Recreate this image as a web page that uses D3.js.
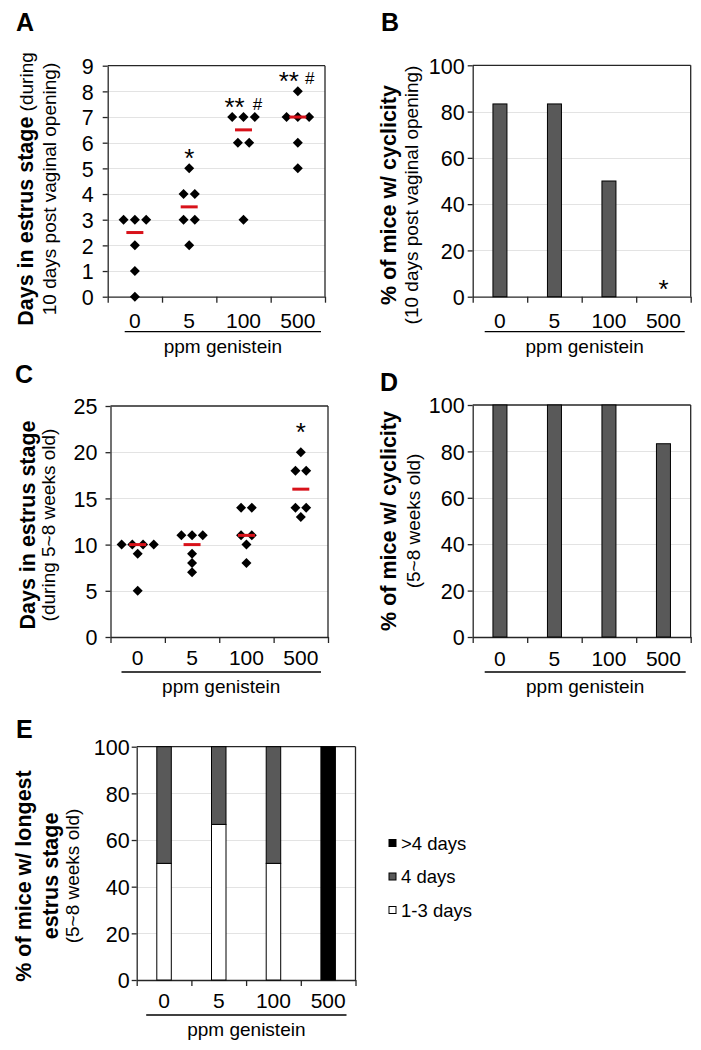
<!DOCTYPE html>
<html><head><meta charset="utf-8">
<script src="https://cdn.jsdelivr.net/npm/d3@7"></script>
<style>
body{margin:0;background:#fff}
svg text{font-family:"Liberation Sans",Arial,Helvetica,sans-serif;fill:#000}
</style>
</head><body>
<svg id="c" width="701" height="1050"></svg>
<script>
// ---------------- data ----------------
const groups = ["0", "5", "100", "500"];
const xTitle = "ppm genistein";

const daysA = [[3, 3, 3, 2, 1, 0], [5, 4, 4, 3, 3, 2], [7, 7, 7, 6, 6, 3], [8, 7, 7, 7, 6, 5]];
const starsA = ["", "*", "**", "**"];
const hashA = ["", "", "#", "#"];

const cyclicB = [83.3, 83.3, 50, 0];
const starsB = ["", "", "", "*"];

const daysC = [[10, 10, 10, 10, 9, 5], [11, 11, 11, 9, 8, 7], [14, 14, 11, 11, 10, 8], [20, 18, 18, 14, 14, 13]];
const starsC = ["", "", "", "*"];

const cyclicD = [100, 100, 100, 83.3];

const longest13 = [50, 66.7, 50, 0];
const longest4 = [50, 33.3, 50, 0];
const longestGt4 = [0, 0, 0, 100];
const stackKeys = ["1-3 days", "4 days", ">4 days"];
const legendOrder = [">4 days", "4 days", "1-3 days"];

// ---------------- drawing ----------------
const svg = d3.select("#c");
const AX = "#262626", GRID = "#e3e3e3";
const FS_YTICK = 21.5, FS_XTICK = 21, FS_TITLE = 19, FS_YB = 21.5, FS_YN = 19;

function panel(o) {
  const x = d3.scaleBand().domain(groups).range([o.left, o.right]);
  const y = d3.scaleLinear().domain([0, o.ymax]).range([o.bottom, o.top]);
  const ticks = d3.range(0, o.ymax + o.ystep / 2, o.ystep);
  const g = svg.append("g");
  g.selectAll("line.grid").data(ticks.filter(t => t > 0 && t < o.ymax)).join("line")
    .attr("class", "grid")
    .attr("x1", o.left).attr("x2", o.right)
    .attr("y1", d => Math.round(y(d)) + 0.5).attr("y2", d => Math.round(y(d)) + 0.5)
    .attr("stroke", GRID).attr("stroke-width", 1);
  g.append("line").attr("x1", o.left).attr("x2", o.right).attr("y1", o.top).attr("y2", o.top)
    .attr("stroke", AX).attr("stroke-width", 1.3);
  g.append("line").attr("x1", o.right).attr("x2", o.right).attr("y1", o.top).attr("y2", o.bottom)
    .attr("stroke", AX).attr("stroke-width", 1.3);
  const ya = g.append("g").attr("transform", `translate(${o.left},0)`)
    .call(d3.axisLeft(y).tickValues(ticks).tickSize(5).tickSizeOuter(0).tickPadding(o.labelGap).tickFormat(d3.format("d")));
  ya.select(".domain").attr("stroke", AX).attr("stroke-width", 1.3);
  ya.selectAll(".tick line").attr("stroke", AX).attr("stroke-width", 1.3);
  ya.selectAll(".tick text").attr("font-size", FS_YTICK).attr("font-family", null).attr("dy", "0.36em");
  const xb = d3.scaleLinear().domain([0, groups.length]).range([o.left, o.right]);
  const xa = g.append("g").attr("transform", `translate(0,${o.bottom})`)
    .call(d3.axisBottom(xb).tickValues(d3.range(groups.length + 1)).tickSize(6).tickSizeOuter(0).tickFormat(""));
  xa.select(".domain").attr("stroke", AX).attr("stroke-width", 1.3);
  xa.selectAll(".tick line").attr("stroke", AX).attr("stroke-width", 1.3);
  const xl = g.append("g").attr("transform", `translate(0,${o.bottom + o.xLabelDy})`)
    .call(d3.axisBottom(x).tickSize(0).tickPadding(0));
  xl.select(".domain").remove();
  xl.selectAll(".tick text").attr("font-size", FS_XTICK).attr("font-family", null).attr("dy", 0).attr("y", 0);
  const ux1 = o.left + o.ul[0], ux2 = o.right - o.ul[1];
  g.append("line").attr("x1", ux1).attr("x2", ux2).attr("y1", o.bottom + 35).attr("y2", o.bottom + 35)
    .attr("stroke", "#000").attr("stroke-width", 1.3);
  g.append("text").attr("x", (ux1 + ux2) / 2).attr("y", o.bottom + 56).attr("text-anchor", "middle")
    .attr("font-size", FS_TITLE).text(xTitle);
  g.append("text").attr("x", o.letter[1]).attr("y", o.letter[2]).attr("font-size", 25)
    .attr("font-weight", "bold").text(o.letter[0]);
  o.ylab.lines.forEach(line => {
    const t = g.append("text").attr("text-anchor", "middle")
      .attr("transform", `translate(${line.x},${o.ylab.cy}) rotate(-90)`);
    line.parts.forEach(p => t.append("tspan").attr("font-weight", p[1] ? "bold" : "normal")
      .attr("font-size", p[1] ? FS_YB : FS_YN).text(p[0]));
  });
  return {g, x, y};
}

function scatter(p, data, o) {
  const pts = [];
  data.forEach((vals, i) => {
    const counts = d3.rollup(vals, v => v.length, d => d);
    const seen = new Map();
    vals.forEach(v => {
      const n = counts.get(v), k = seen.get(v) || 0;
      seen.set(v, k + 1);
      pts.push({g: groups[i], v, off: k - (n - 1) / 2});
    });
  });
  const cx = d => p.x(d) + p.x.bandwidth() / 2;
  p.g.selectAll("path.pt").data(pts).join("path").attr("class", "pt")
    .attr("d", d3.symbol(d3.symbolSquare, 50))
    .attr("transform", d => `translate(${cx(d.g) + d.off * o.spread},${p.y(d.v)}) rotate(45)`)
    .attr("fill", "#000");
  p.g.selectAll("line.med").data(data).join("line").attr("class", "med")
    .attr("x1", (d, i) => cx(groups[i]) - 8.5).attr("x2", (d, i) => cx(groups[i]) + 8.5)
    .attr("y1", d => p.y(d3.median(d))).attr("y2", d => p.y(d3.median(d)))
    .attr("stroke", "#d8121a").attr("stroke-width", 3);
}

function annotate(p, marks, tops, dy, dx, fs) {
  marks.forEach((m, i) => {
    if (!m) return;
    p.g.append("text").attr("x", p.x(groups[i]) + p.x.bandwidth() / 2 + dx(i))
      .attr("y", p.y(tops[i]) - dy).attr("text-anchor", "middle").attr("font-size", fs).text(m);
  });
}

function bars(p, vals) {
  const bw = 14;
  p.g.selectAll("rect.bar").data(vals).join("rect").attr("class", "bar")
    .attr("x", (d, i) => p.x(groups[i]) + p.x.bandwidth() / 2 - bw / 2)
    .attr("width", bw)
    .attr("y", d => p.y(d)).attr("height", d => p.y(0) - p.y(d))
    .attr("fill", "#595959").attr("stroke", "#000").attr("stroke-width", d => d > 0 ? 1 : 0);
}

// ---- Panel A ----
const pA = panel({left: 107.7, right: 325, top: 65.7, bottom: 296.7, ymax: 9, ystep: 1, labelGap: 9,
  xLabelDy: 31, ul: [17, 4], letter: ["A", 16, 31],
  ylab: {cy: 189, lines: [
    {x: 33, parts: [["Days in estrus stage", 1], [" (during", 0]]},
    {x: 56, parts: [["10 days post vaginal opening)", 0]]}]}});
scatter(pA, daysA, {spread: 11.3});
const topA = daysA.map(d => d3.max(d));
annotate(pA, starsA, topA, 1, i => (hashA[i] ? -9 : 0), 26);
annotate(pA, hashA, topA, 7, i => (i === 2 ? 14 : 12), 17);

// ---- Panel B ----
const pB = panel({left: 472.7, right: 690.7, top: 65.3, bottom: 296.7, ymax: 100, ystep: 20, labelGap: 3,
  xLabelDy: 31, ul: [12, 6], letter: ["B", 381, 31],
  ylab: {cy: 195, lines: [
    {x: 396, parts: [["% of mice w/ cyclicity", 1]]},
    {x: 418, parts: [["(10 days post vaginal opening)", 0]]}]}});
bars(pB, cyclicB);
annotate(pB, starsB, cyclicB, -1, () => 0, 26);

// ---- Panel C ----
const pC = panel({left: 110.5, right: 328, top: 406, bottom: 637, ymax: 25, ystep: 5, labelGap: 8,
  xLabelDy: 28, ul: [11, 7], letter: ["C", 15, 383],
  ylab: {cy: 525, lines: [
    {x: 35, parts: [["Days in estrus stage", 1]]},
    {x: 55, parts: [["(during 5~8 weeks old)", 0]]}]}});
scatter(pC, daysC, {spread: 10.7});
annotate(pC, starsC, daysC.map(d => d3.max(d)), 11, () => 0, 26);

// ---- Panel D ----
const pD = panel({left: 472.7, right: 690.7, top: 405, bottom: 637, ymax: 100, ystep: 20, labelGap: 3,
  xLabelDy: 29, ul: [12, 5], letter: ["D", 380, 391],
  ylab: {cy: 521, lines: [
    {x: 396, parts: [["% of mice w/ cyclicity", 1]]},
    {x: 420, parts: [["(5~8 weeks old)", 0]]}]}});
bars(pD, cyclicD);

// ---- Panel E ----
const pE = panel({left: 136.7, right: 355.5, top: 746.7, bottom: 980, ymax: 100, ystep: 20, labelGap: 2,
  xLabelDy: 28, ul: [9.5, 9], letter: ["E", 16, 738],
  ylab: {cy: 876, lines: [
    {x: 31, parts: [["% of mice w/ longest", 1]]},
    {x: 58, parts: [["estrus stage", 1]]},
    {x: 79, parts: [["(5~8 weeks old)", 0]]}]}});
const stackRows = groups.map((gname, i) => ({g: gname, "1-3 days": longest13[i], "4 days": longest4[i], ">4 days": longestGt4[i]}));
const series = d3.stack().keys(stackKeys)(stackRows);
const fills = {"1-3 days": "#ffffff", "4 days": "#595959", ">4 days": "#000000"};
const bwE = 14.5;
pE.g.selectAll("g.ser").data(series).join("g").attr("class", "ser")
  .attr("fill", d => fills[d.key])
  .selectAll("rect").data(d => d.filter(s => s[1] - s[0] > 0)).join("rect")
  .attr("x", d => pE.x(d.data.g) + pE.x.bandwidth() / 2 - bwE / 2).attr("width", bwE)
  .attr("y", d => pE.y(d[1])).attr("height", d => pE.y(d[0]) - pE.y(d[1]))
  .attr("stroke", "#000").attr("stroke-width", 1);

const lg = svg.append("g");
legendOrder.forEach((k, i) => {
  const yy = 843 + i * 33.5;
  lg.append("rect").attr("x", 389).attr("y", yy - 3.5).attr("width", 7).attr("height", 7)
    .attr("fill", fills[k]).attr("stroke", "#000").attr("stroke-width", 1);
  lg.append("text").attr("x", 401).attr("y", yy + 6.5).attr("font-size", 18.5).text(k);
});
</script>
</body></html>
